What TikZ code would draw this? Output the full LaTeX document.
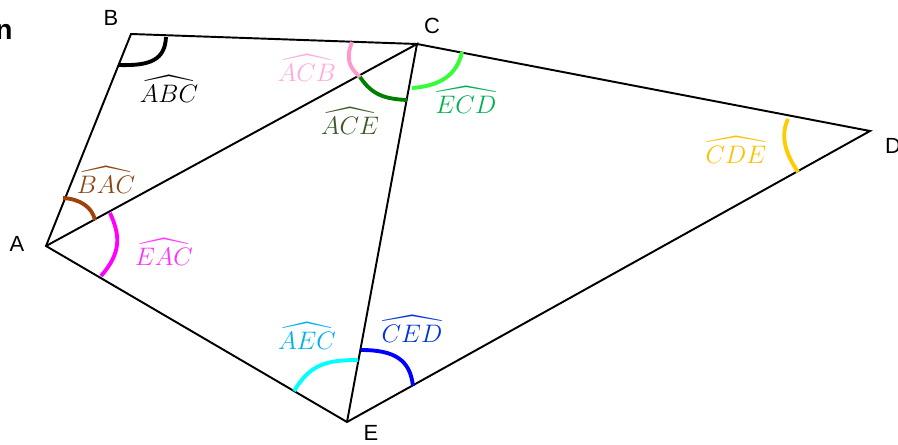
\documentclass[tikz,border=0pt]{standalone}
\usepackage{amsmath,amssymb}
\usepackage{fontspec}
\setmainfont{Liberation Sans}
\usepackage{tikz}
\usepackage{xcolor}
\usetikzlibrary{calc}
\definecolor{acbpink}{HTML}{FF99CC}
\definecolor{acbtext}{HTML}{FFAADD}
\definecolor{acegreen}{HTML}{008000}
\definecolor{acetext}{HTML}{3C5A28}
\definecolor{ecdlime}{HTML}{33FF33}
\definecolor{ecdtext}{HTML}{00B050}
\definecolor{bacbrown}{HTML}{A0400A}
\definecolor{bactext}{HTML}{8B4513}
\definecolor{eacmagenta}{HTML}{FF00FF}
\definecolor{eactext}{HTML}{FF33FF}
\definecolor{aeccyan}{HTML}{00FFFF}
\definecolor{aectext}{HTML}{00B0F0}
\definecolor{cedblue}{HTML}{0000FF}
\definecolor{cedtext}{HTML}{0033DD}
\definecolor{cdegold}{HTML}{FFCC00}
\definecolor{cdetext}{HTML}{FFC000}

\begin{document}
\begin{tikzpicture}[x=0.02cm, y=-0.02cm,
  edge/.style={black, line width=1.1pt},
  anglearc/.style={line width=2.2pt},
  vertexlabel/.style={font=\fontsize{12.5}{14}\selectfont},
  anglelabel/.style={font=\fontsize{14.5}{17}\selectfont}]
\useasboundingbox (0, 0) rectangle (898, 445);
\coordinate (A) at (46, 246);
\coordinate (B) at (131, 34);
\coordinate (C) at (417, 44);
\coordinate (D) at (870, 131);
\coordinate (E) at (347, 422);
\draw[edge] (A) -- (B) -- (C) -- (D) -- (E) -- cycle;
\draw[edge] (A) -- (C) -- (E);
\node[font=\bfseries\fontsize{16}{18}\selectfont, anchor=base east, inner sep=0pt] (cut) at (13, 40) {n};
\foreach \v/\x/\y in {A/17/244, B/111/18, C/432/26, D/893/146, E/371/433}{
  \node[vertexlabel] (lbl\v) at (\x, \y) {\v};
}
% angle marks
\draw[anglearc, black] (119, 65) .. controls (150, 66) and (165, 60) .. (166, 37);
\draw[anglearc, acbpink] (352, 42) .. controls (345, 60) and (350, 68) .. (360, 77);
\draw[anglearc, acegreen] (360, 77) .. controls (372, 95) and (385, 99) .. (407, 100);
\draw[anglearc, ecdlime] (412, 88) .. controls (440, 86) and (457, 75) .. (462, 52);
\draw[anglearc, bacbrown] (63, 198) .. controls (80, 199) and (92, 207) .. (95, 220);
\draw[anglearc, eacmagenta] (110, 213) .. controls (120, 235) and (122, 252) .. (101, 276);
\draw[anglearc, aeccyan] (294, 391) .. controls (310, 365) and (325, 360) .. (358, 360);
\draw[anglearc, cedblue] (361, 350) .. controls (395, 350) and (410, 360) .. (413, 386);
\draw[anglearc, cdegold] (788, 119) .. controls (778, 140) and (790, 160) .. (798, 172);
% angle names
\foreach \a/\col/\x/\y in {ABC/black/169/89, ACB/acbtext/307/68, ACE/acetext/350/121,
  ECD/ecdtext/466/100, BAC/bactext/106/180, EAC/eactext/164/252,
  AEC/aectext/307/336, CED/cedtext/412/329, CDE/cdetext/736/150}{
  \node[anglelabel, text=\col] (name\a) at (\x, \y) {$\widehat{\a}$};
}
\end{tikzpicture}
\end{document}
